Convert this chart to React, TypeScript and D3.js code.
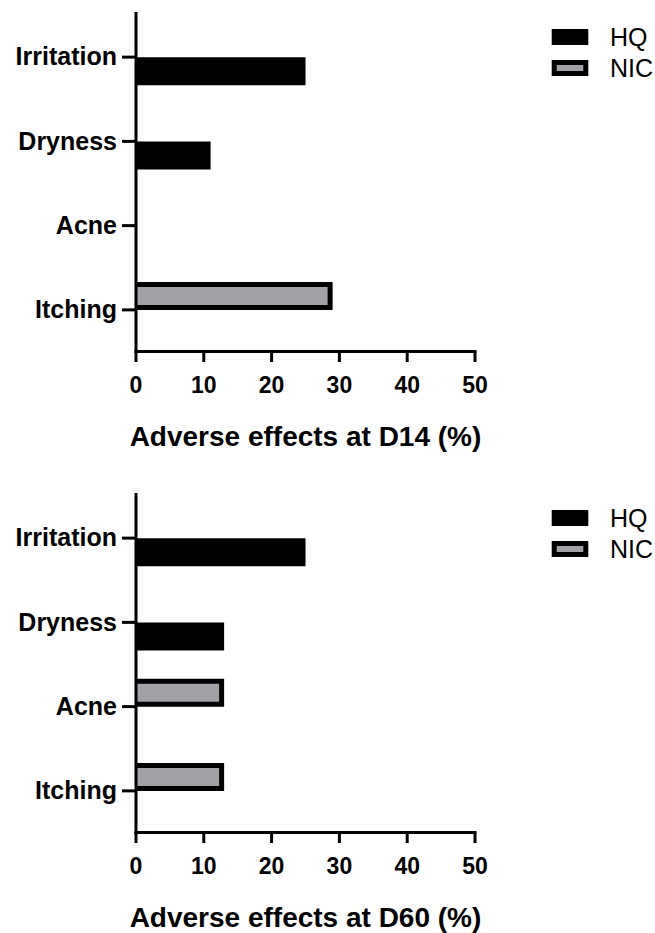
import React from 'react';
import * as d3 from 'd3';

const categories = ['Irritation', 'Dryness', 'Acne', 'Itching'];
const groups = ['NIC', 'HQ'];
const hqD14 = [25, 11, 0, 0];
const nicD14 = [0, 0, 0, 29];
const hqD60 = [25, 13, 0, 0];
const nicD60 = [0, 0, 13, 13];
const xTicks = [0, 10, 20, 30, 40, 50];
const titles = ['Adverse effects at D14 (%)', 'Adverse effects at D60 (%)'];

const FONT = '"Liberation Sans", Arial, Helvetica, sans-serif';
const GRAY = '#a2a1a6';
const SW = 5;

const x = d3.scaleLinear().domain([0, 50]).range([136, 475]);
const y = d3.scaleBand<string>().domain(categories).range([15, 352]);
const sub = d3.scaleBand<string>().domain(groups).range([-28, 28]);

const colorOf = (g: string) => (g === 'HQ' ? '#000' : GRAY);

function Panel({ top, hq, nic, title }: { top: number; hq: number[]; nic: number[]; title: string }) {
  const rows = categories.map((c, i) => ({ c, HQ: hq[i], NIC: nic[i] }));
  const center = (c: string) => (y(c) as number) + y.bandwidth() / 2;
  const x0 = x(0);
  const axisY = 351.5;
  return (
    <g transform={`translate(0,${top})`}>
      {/* bars, left edge hidden under the axis */}
      {rows.map(r =>
        groups.map(g => {
          const v = (r as any)[g] as number;
          if (!v) return null;
          const y1 = center(r.c) + (sub(g) as number) + SW / 2;
          const y2 = y1 + sub.bandwidth() - SW;
          const xl = x0;
          const xr = x(v) - SW / 2;
          const p = d3.path();
          p.moveTo(xl, y1);
          p.lineTo(xr, y1);
          p.lineTo(xr, y2);
          p.lineTo(xl, y2);
          return (
            <path key={r.c + g} d={p.toString()} fill={colorOf(g)}
              stroke="#000" strokeWidth={SW} strokeLinejoin="miter" />
          );
        })
      )}
      {/* y axis */}
      <line x1={x0} x2={x0} y1={12} y2={axisY + 1.5} stroke="#000" strokeWidth={3} />
      {categories.map(c => (
        <g key={c}>
          <line x1={122} x2={x0} y1={center(c)} y2={center(c)} stroke="#000" strokeWidth={3} />
          <text x={117} y={center(c)} dy="0.33em" textAnchor="end"
            fontFamily={FONT} fontWeight="bold" fontSize={25}>{c}</text>
        </g>
      ))}
      {/* x axis */}
      <line x1={x0 - 1.5} x2={x(50) + 1.5} y1={axisY} y2={axisY} stroke="#000" strokeWidth={3} />
      {xTicks.map(t => (
        <g key={t}>
          <line x1={x(t)} x2={x(t)} y1={axisY} y2={362} stroke="#000" strokeWidth={3} />
          <text x={x(t)} y={393} textAnchor="middle" fontFamily={FONT}
            fontWeight="bold" fontSize={23}>{t}</text>
        </g>
      ))}
      <text x={(x(0) + x(50)) / 2} y={446} textAnchor="middle" fontFamily={FONT}
        fontWeight="bold" fontSize={28}>{title}</text>
      {/* legend */}
      {['HQ', 'NIC'].map((g, i) => (
        <g key={g} transform={`translate(0,${i * 31})`}>
          <rect x={551.7 + SW / 2} y={29 + SW / 2} width={36.6 - SW} height={16 - SW}
            fill={colorOf(g)} stroke="#000" strokeWidth={SW} />
          <text x={610} y={46} fontFamily={FONT} fontSize={25}>{g}</text>
        </g>
      ))}
    </g>
  );
}

export default function App() {
  return (
    <svg width={655} height={933} style={{ position: 'absolute', left: 0, top: 0, background: '#fff' }}>
      <rect width={655} height={933} fill="#fff" />
      <Panel top={0} hq={hqD14} nic={nicD14} title={titles[0]} />
      <Panel top={481} hq={hqD60} nic={nicD60} title={titles[1]} />
    </svg>
  );
}
